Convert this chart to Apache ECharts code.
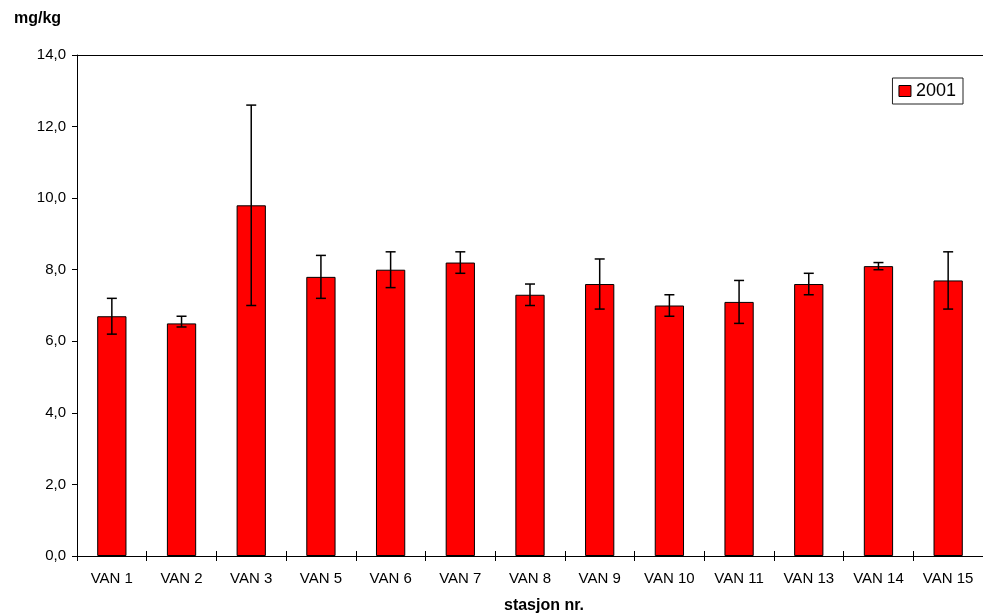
<!DOCTYPE html>
<html><head><meta charset="utf-8">
<script src="https://cdn.jsdelivr.net/npm/echarts@6/dist/echarts.min.js"></script>
<style>html,body{margin:0;padding:0;background:#fff}#c{width:983px;height:616px}</style>
</head><body><div id="c"></div>
<script>
const categories = ['VAN 1','VAN 2','VAN 3','VAN 5','VAN 6','VAN 7','VAN 8','VAN 9','VAN 10','VAN 11','VAN 13','VAN 14','VAN 15'];
const values     = [6.7, 6.5, 9.8, 7.8, 8.0, 8.2, 7.3, 7.6, 7.0, 7.1, 7.6, 8.1, 7.7];
const errHigh    = [7.2, 6.7, 12.6, 8.4, 8.5, 8.5, 7.6, 8.3, 7.3, 7.7, 7.9, 8.2, 8.5];
const errLow     = [6.2, 6.4, 7.0, 7.2, 7.5, 7.9, 7.0, 6.9, 6.7, 6.5, 7.3, 8.0, 6.9];
const seriesName = '2001';
const yTicks = {min: 0, max: 14, interval: 2};

const FONT = 'Liberation Sans, Arial, sans-serif';
const chart = echarts.init(document.getElementById('c'));
const errData = categories.map((c, i) => [i, errLow[i], errHigh[i]]);

chart.setOption({
  animation: false,
  backgroundColor: '#fff',
  title: [
    {text: 'mg/kg', left: 9, top: 6, textStyle: {fontFamily: FONT, fontWeight: 'bold', fontSize: 16, color: '#000'}},
    {text: 'stasjon nr.', left: 539, top: 593, textAlign: 'center', textStyle: {fontFamily: FONT, fontWeight: 'bold', fontSize: 16, color: '#000'}}
  ],
  legend: {
    data: [{name: seriesName, icon: 'rect'}],
    right: 20, top: 78,
    itemWidth: 12, itemHeight: 11, itemGap: 4,
    padding: [4, 7, 4, 6],
    borderColor: '#222', borderWidth: 1,
    textStyle: {fontFamily: FONT, fontSize: 18, color: '#000'},
    itemStyle: {borderColor: '#000', borderWidth: 1}
  },
  grid: {left: 77, right: 0, top: 55, bottom: 60, containLabel: false},
  xAxis: [
    {
      type: 'category', data: categories, position: 'bottom',
      axisLine: {lineStyle: {color: '#000', width: 1}},
      axisTick: {show: true, length: 5, lineStyle: {color: '#000'}},
      axisLabel: {fontFamily: FONT, fontSize: 15, color: '#000', margin: 15},
      splitLine: {show: false}
    },
    {
      type: 'category', data: categories, position: 'top',
      axisLine: {show: true, lineStyle: {color: '#000', width: 1}},
      axisTick: {show: false}, axisLabel: {show: false}
    },
    {
      type: 'category', data: categories, position: 'bottom',
      axisLine: {show: false},
      axisTick: {show: true, inside: true, length: 5, lineStyle: {color: '#000'}},
      axisLabel: {show: false}
    }
  ],
  yAxis: {
    type: 'value', min: yTicks.min, max: yTicks.max, interval: yTicks.interval,
    axisLine: {show: true, lineStyle: {color: '#000', width: 1}},
    axisTick: {show: true, length: 5, lineStyle: {color: '#000'}},
    axisLabel: {fontFamily: FONT, fontSize: 15, color: '#000', margin: 11,
      formatter: v => v.toFixed(1).replace('.', ',')},
    splitLine: {show: false}
  },
  series: [
    {
      name: seriesName, type: 'bar', data: values, barWidth: '42%',
      itemStyle: {color: '#FF0000', borderColor: '#000', borderWidth: 1}
    },
    {
      type: 'custom', data: errData, z: 10,
      renderItem: function (params, api) {
        const i = api.value(0);
        const lo = api.coord([i, api.value(1)]);
        const hi = api.coord([i, api.value(2)]);
        const hw = 5;
        const st = {stroke: '#000', lineWidth: 1.5};
        return {type: 'group', children: [
          {type: 'line', shape: {x1: hi[0], y1: hi[1], x2: lo[0], y2: lo[1]}, style: st},
          {type: 'line', shape: {x1: hi[0]-hw, y1: hi[1], x2: hi[0]+hw, y2: hi[1]}, style: st},
          {type: 'line', shape: {x1: lo[0]-hw, y1: lo[1], x2: lo[0]+hw, y2: lo[1]}, style: st}
        ]};
      }
    }
  ]
});
</script></body></html>
